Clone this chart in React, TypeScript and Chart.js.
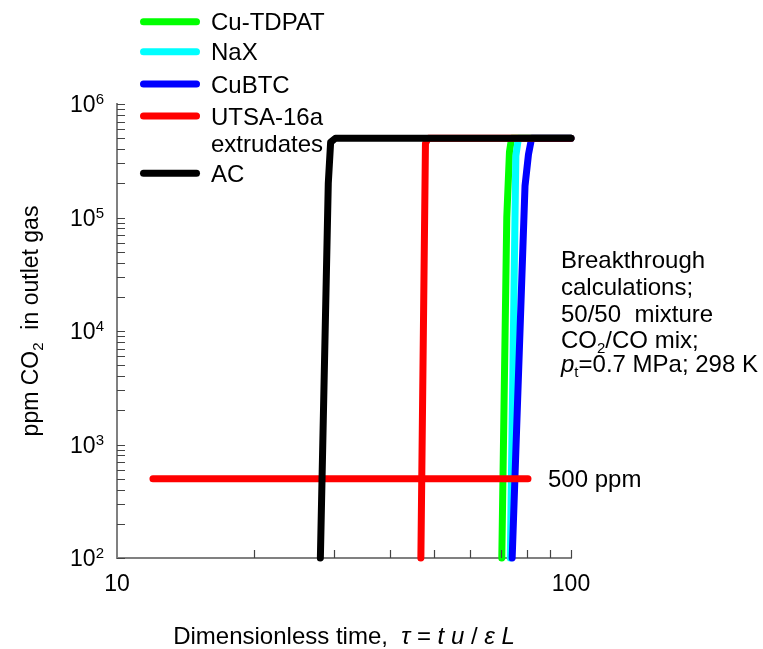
import React, { useEffect, useRef } from 'react';
import { Chart, registerables } from 'chart.js';

Chart.register(...registerables);

const FONT = '"Liberation Sans", Arial, Helvetica, sans-serif';

// ---- Data ----
const seriesNames = ['Cu-TDPAT', 'NaX', 'CuBTC', 'UTSA-16a', 'AC'];
const seriesColors = ['#00ff00', '#00ffff', '#0000ff', '#ff0000', '#000000'];

const tdpatX = [70.4, 72.2, 73.2, 74.0, 100];
const tdpatY = [100, 1e5, 3.8e5, 5e5, 5e5];

const naxX = [73.5, 75.6, 76.6, 100];
const naxY = [100, 3.5e5, 5e5, 5e5];

const cubtcX = [74.2, 79.2, 80.6, 81.9, 100];
const cubtcY = [100, 1.9e5, 3.6e5, 5e5, 5e5];

const utsaX = [46.7, 47.8, 48.5, 100];
const utsaY = [100, 4.5e5, 5e5, 5e5];

const acX = [28.05, 29.2, 29.55, 30.3, 100];
const acY = [100, 2e5, 4.6e5, 5e5, 5e5];

const ppmLineX = [12.0, 80.4];
const ppmLineY = [500, 500];

const xTickLabels = [10, 100];
const yTickExponents = [2, 3, 4, 5, 6];

type Seg = { t: string; font: string; dy?: number };

function drawSegs(ctx: CanvasRenderingContext2D, segs: Seg[], x: number, y: number, align: 'left' | 'center' | 'right') {
  let total = 0;
  const widths = segs.map((s) => {
    ctx.font = s.font;
    const w = ctx.measureText(s.t).width;
    total += w;
    return w;
  });
  let cx = align === 'left' ? x : align === 'center' ? x - total / 2 : x - total;
  ctx.textAlign = 'left';
  ctx.textBaseline = 'alphabetic';
  segs.forEach((s, i) => {
    ctx.font = s.font;
    ctx.fillText(s.t, cx, y + (s.dy || 0));
    cx += widths[i];
  });
}

const overlayPlugin = {
  id: 'overlay',
  afterDraw(chart: any) {
    const ctx: CanvasRenderingContext2D = chart.ctx;
    const xs = chart.scales.x;
    const ys = chart.scales.y;
    const area = chart.chartArea;
    ctx.save();

    // inward ticks
    ctx.strokeStyle = '#444';
    ctx.lineWidth = 1.2;
    ctx.beginPath();
    for (let k = 2; k <= 5; k++) {
      for (let m = 1; m <= 9; m++) {
        const py = Math.round(ys.getPixelForValue(m * Math.pow(10, k))) + 0.5;
        ctx.moveTo(area.left, py);
        ctx.lineTo(area.left + 8, py);
      }
    }
    const pTop = Math.round(ys.getPixelForValue(1e6)) + 0.5;
    ctx.moveTo(area.left, pTop);
    ctx.lineTo(area.left + 8, pTop);
    for (let v = 20; v <= 100; v += 10) {
      const px = Math.round(xs.getPixelForValue(v)) + 0.5;
      ctx.moveTo(px, area.bottom);
      ctx.lineTo(px, area.bottom - 8);
    }
    ctx.stroke();

    ctx.fillStyle = '#000';
    const tickFont = `23px ${FONT}`;
    const supFont = `15px ${FONT}`;
    // y tick labels 10^n
    yTickExponents.forEach((e) => {
      const py = ys.getPixelForValue(Math.pow(10, e));
      drawSegs(ctx, [
        { t: '10', font: tickFont, dy: 0 },
        { t: String(e), font: supFont, dy: -8 },
      ], area.left - 13, py + 8, 'right');
    });
    // x tick labels
    xTickLabels.forEach((v) => {
      const px = xs.getPixelForValue(v);
      drawSegs(ctx, [{ t: String(v), font: tickFont }], px, 591, 'center');
    });

    const f = `24px ${FONT}`;
    const fi = `italic 24px ${FONT}`;
    const fs = `15px ${FONT}`;

    // x title
    drawSegs(ctx, [
      { t: 'Dimensionless time,  ', font: f },
      { t: 'τ', font: fi },
      { t: ' = ', font: f },
      { t: 't', font: fi },
      { t: ' ', font: f },
      { t: 'u', font: fi },
      { t: ' / ', font: f },
      { t: 'ε', font: fi },
      { t: ' ', font: f },
      { t: 'L', font: fi },
    ], 344, 644, 'center');

    // y title (rotated)
    const fy = `23px ${FONT}`;
    ctx.save();
    ctx.translate(38, 321);
    ctx.rotate(-Math.PI / 2);
    drawSegs(ctx, [
      { t: 'ppm CO', font: fy },
      { t: '2', font: fs, dy: 5 },
      { t: '  in outlet gas', font: fy },
    ], 0, 0, 'center');
    ctx.restore();

    // legend
    const rows = [21.7, 51.7, 84, 116, 173.3];
    rows.forEach((ry, i) => {
      ctx.strokeStyle = seriesColors[i];
      ctx.lineWidth = 7;
      ctx.lineCap = 'round';
      ctx.beginPath();
      ctx.moveTo(143.5, ry);
      ctx.lineTo(196.5, ry);
      ctx.stroke();
      ctx.fillStyle = '#000';
      drawSegs(ctx, [{ t: seriesNames[i], font: f }], 211, ry + 8.5, 'left');
    });
    drawSegs(ctx, [{ t: 'extrudates', font: f }], 211, 152, 'left');

    // annotations
    const ax = 561;
    drawSegs(ctx, [{ t: 'Breakthrough', font: f }], ax, 268, 'left');
    drawSegs(ctx, [{ t: 'calculations;', font: f }], ax, 295, 'left');
    drawSegs(ctx, [{ t: '50/50  mixture', font: f }], ax, 322, 'left');
    drawSegs(ctx, [
      { t: 'CO', font: f },
      { t: '2', font: fs, dy: 5 },
      { t: '/CO mix;', font: f },
    ], ax, 348, 'left');
    drawSegs(ctx, [
      { t: 'p', font: fi },
      { t: 't', font: fs, dy: 5 },
      { t: '=0.7 MPa; 298 K', font: f },
    ], ax, 372, 'left');

    drawSegs(ctx, [{ t: '500 ppm', font: f }], 548, 487, 'left');

    ctx.restore();
  },
};

function pts(xa: number[], ya: number[]) {
  return xa.map((x, i) => ({ x, y: ya[i] }));
}

export default function App() {
  const ref = useRef<HTMLCanvasElement>(null);
  useEffect(() => {
    if (!ref.current) return;
    const common = {
      borderWidth: 7,
      borderCapStyle: 'round' as const,
      borderJoinStyle: 'round' as const,
      pointRadius: 0,
      tension: 0,
      fill: false,
      clip: false as any,
    };
    const chart = new Chart(ref.current, {
      type: 'line',
      data: {
        datasets: [
          { ...common, label: 'AC', data: pts(acX, acY), borderColor: seriesColors[4], order: 0 },
          { ...common, label: 'UTSA-16a extrudates', data: pts(utsaX, utsaY), borderColor: seriesColors[3], order: 1 },
          { ...common, label: '500 ppm', data: pts(ppmLineX, ppmLineY), borderColor: '#ff0000', order: 2 },
          { ...common, label: 'CuBTC', data: pts(cubtcX, cubtcY), borderColor: seriesColors[2], order: 3 },
          { ...common, label: 'NaX', data: pts(naxX, naxY), borderColor: seriesColors[1], order: 4 },
          { ...common, label: 'Cu-TDPAT', data: pts(tdpatX, tdpatY), borderColor: seriesColors[0], order: 5 },
        ] as any,
      },
      options: {
        animation: false,
        responsive: false,
        devicePixelRatio: 1,
        layout: { padding: { left: 117, right: 192, top: 104, bottom: 91 } },
        plugins: { legend: { display: false }, tooltip: { enabled: false } },
        scales: {
          x: {
            type: 'logarithmic',
            min: 10,
            max: 100,
            grid: { display: false, drawTicks: false },
            ticks: { display: false },
            border: { display: true, color: '#808080', width: 2 },
          },
          y: {
            type: 'logarithmic',
            min: 100,
            max: 1e6,
            grid: { display: false, drawTicks: false },
            ticks: { display: false },
            border: { display: true, color: '#808080', width: 2 },
          },
        },
      } as any,
      plugins: [overlayPlugin],
    });
    return () => chart.destroy();
  }, []);
  return (
    <div style={{ position: 'absolute', left: 0, top: 0, width: 763, height: 649, background: '#fff' }}>
      <canvas ref={ref} width={763} height={649} style={{ display: 'block' }} />
    </div>
  );
}
